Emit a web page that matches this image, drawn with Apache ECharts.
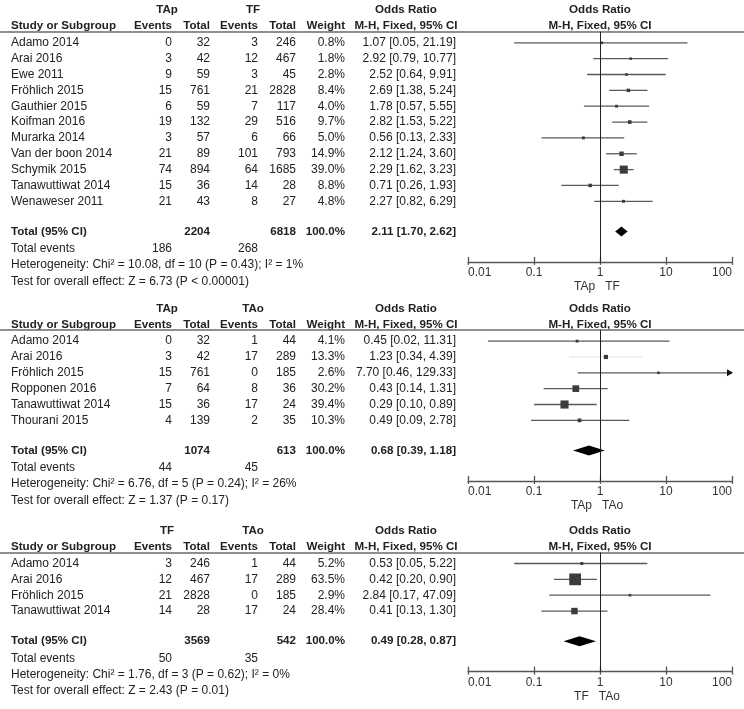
<!DOCTYPE html>
<html><head><meta charset="utf-8">
<script src="https://cdn.jsdelivr.net/npm/echarts@6/dist/echarts.min.js"></script>
<style>html,body{margin:0;padding:0;background:#fff}#c{width:744px;height:709px}</style>
</head><body><div id="c"></div>
<script>
// ---------- DATA ----------
// Panel 1: TAp vs TF
const groups1 = ['TAp', 'TF'];
const studies1 = ['Adamo 2014','Arai 2016','Ewe 2011','Fröhlich 2015','Gauthier 2015','Koifman 2016','Murarka 2014','Van der boon 2014','Schymik 2015','Tanawuttiwat 2014','Wenaweser 2011'];
const evA1 = [0,3,9,15,6,19,3,21,74,15,21];
const totA1 = [32,42,59,761,59,132,57,89,894,36,43];
const evB1 = [3,12,3,21,7,29,6,101,64,14,8];
const totB1 = [246,467,45,2828,117,516,66,793,1685,28,27];
const weight1 = [0.8,1.8,2.8,8.4,4.0,9.7,5.0,14.9,39.0,8.8,4.8];
const or1 = [1.07,2.92,2.52,2.69,1.78,2.82,0.56,2.12,2.29,0.71,2.27];
const lo1 = [0.05,0.79,0.64,1.38,0.57,1.53,0.13,1.24,1.62,0.26,0.82];
const hi1 = [21.19,10.77,9.91,5.24,5.55,5.22,2.33,3.60,3.23,1.93,6.29];
const totals1 = [2204, 6818];
const totalEvents1 = [186, 268];
const pooled1 = [2.11, 1.70, 2.62];
const het1 = 'Heterogeneity: Chi² = 10.08, df = 10 (P = 0.43); I² = 1%';
const test1 = 'Test for overall effect: Z = 6.73 (P < 0.00001)';

// Panel 2: TAp vs TAo
const groups2 = ['TAp', 'TAo'];
const studies2 = ['Adamo 2014','Arai 2016','Fröhlich 2015','Ropponen 2016','Tanawuttiwat 2014','Thourani 2015'];
const evA2 = [0,3,15,7,15,4];
const totA2 = [32,42,761,64,36,139];
const evB2 = [1,17,0,8,17,2];
const totB2 = [44,289,185,36,24,35];
const weight2 = [4.1,13.3,2.6,30.2,39.4,10.3];
const or2 = [0.45,1.23,7.70,0.43,0.29,0.49];
const lo2 = [0.02,0.34,0.46,0.14,0.10,0.09];
const hi2 = [11.31,4.39,129.33,1.31,0.89,2.78];
const totals2 = [1074, 613];
const totalEvents2 = [44, 45];
const pooled2 = [0.68, 0.39, 1.18];
const het2 = 'Heterogeneity: Chi² = 6.76, df = 5 (P = 0.24); I² = 26%';
const test2 = 'Test for overall effect: Z = 1.37 (P = 0.17)';

// Panel 3: TF vs TAo
const groups3 = ['TF', 'TAo'];
const studies3 = ['Adamo 2014','Arai 2016','Fröhlich 2015','Tanawuttiwat 2014'];
const evA3 = [3,12,21,14];
const totA3 = [246,467,2828,28];
const evB3 = [1,17,0,17];
const totB3 = [44,289,185,24];
const weight3 = [5.2,63.5,2.9,28.4];
const or3 = [0.53,0.42,2.84,0.41];
const lo3 = [0.05,0.20,0.17,0.13];
const hi3 = [5.22,0.90,47.09,1.30];
const totals3 = [3569, 542];
const totalEvents3 = [50, 35];
const pooled3 = [0.49, 0.28, 0.87];
const het3 = 'Heterogeneity: Chi² = 1.76, df = 3 (P = 0.62); I² = 0%';
const test3 = 'Test for overall effect: Z = 2.43 (P = 0.01)';

const tickValues = [0.01, 0.1, 1, 10, 100];
const tickLabels = ['0.01', '0.1', '1', '10', '100'];
const orHeader = ['Odds Ratio', 'M-H, Fixed, 95% CI'];

// ---------- LAYOUT ----------
const W = 744;
const rowH = 15.85;
const panelTop = [10, 308.3, 530.7];     // pixel of first header line
const COL = {label: 11, evA: 172, totA: 210, evB: 258, totB: 296, weight: 345, ci: 456,
             grpA: 167, grpB: 253, ciHead: 406, forestHead: 600};
const FOREST_LEFT = 468, FOREST_RIGHT = 12;
const FONT = '"Liberation Sans", Arial, Helvetica, sans-serif';
const TXT = '#222';
const faint = {1: [1]}; // panel index -> rows drawn faint in reference

const panels = [
  {groups: groups1, studies: studies1, evA: evA1, totA: totA1, evB: evB1, totB: totB1, w: weight1, or: or1, lo: lo1, hi: hi1, totals: totals1, tev: totalEvents1, pooled: pooled1, het: het1, test: test1},
  {groups: groups2, studies: studies2, evA: evA2, totA: totA2, evB: evB2, totB: totB2, w: weight2, or: or2, lo: lo2, hi: hi2, totals: totals2, tev: totalEvents2, pooled: pooled2, het: het2, test: test2},
  {groups: groups3, studies: studies3, evA: evA3, totA: totA3, evB: evB3, totB: totB3, w: weight3, or: or3, lo: lo3, hi: hi3, totals: totals3, tev: totalEvents3, pooled: pooled3, het: het3, test: test3}
];

const fmtCI = (o, l, h) => o.toFixed(2) + ' [' + l.toFixed(2) + ', ' + h.toFixed(2) + ']';

const grid = [], xAxis = [], yAxis = [], series = [];
const H1 = -2.07, H2 = -1.05, UL = -0.7;

panels.forEach((p, pi) => {
  const n = p.studies.length;
  const tRow = n + 0.9;
  const evRow = tRow + 1.1, hetRow = tRow + 2.1, testRow = tRow + 3.15, axRow = tRow + 1.92;
  const top = panelTop[pi];
  const pix = r => top + (r - H1) * rowH;

  // cells
  const cells = [];
  const add = (x, r, text, align, bold) => cells.push({x, r, text: String(text), align, bold});
  add(COL.grpA, H1, p.groups[0], 'center', true);
  add(COL.grpB, H1, p.groups[1], 'center', true);
  add(COL.ciHead, H1, orHeader[0], 'center', true);
  add(COL.forestHead, H1, orHeader[0], 'center', true);
  add(COL.label, H2, 'Study or Subgroup', 'left', true);
  add(COL.evA, H2, 'Events', 'right', true);
  add(COL.totA, H2, 'Total', 'right', true);
  add(COL.evB, H2, 'Events', 'right', true);
  add(COL.totB, H2, 'Total', 'right', true);
  add(COL.weight, H2, 'Weight', 'right', true);
  add(COL.ciHead, H2, orHeader[1], 'center', true);
  add(COL.forestHead, H2, orHeader[1], 'center', true);
  p.studies.forEach((s, i) => {
    add(COL.label, i, s, 'left', false);
    add(COL.evA, i, p.evA[i], 'right', false);
    add(COL.totA, i, p.totA[i], 'right', false);
    add(COL.evB, i, p.evB[i], 'right', false);
    add(COL.totB, i, p.totB[i], 'right', false);
    add(COL.weight, i, p.w[i].toFixed(1) + '%', 'right', false);
    add(COL.ci, i, fmtCI(p.or[i], p.lo[i], p.hi[i]), 'right', false);
  });
  add(COL.label, tRow, 'Total (95% CI)', 'left', true);
  add(COL.totA, tRow, p.totals[0], 'right', true);
  add(COL.totB, tRow, p.totals[1], 'right', true);
  add(COL.weight, tRow, '100.0%', 'right', true);
  add(COL.ci, tRow, fmtCI(p.pooled[0], p.pooled[1], p.pooled[2]), 'right', true);
  add(COL.label, evRow, 'Total events', 'left', false);
  add(COL.evA, evRow, p.tev[0], 'right', false);
  add(COL.evB, evRow, p.tev[1], 'right', false);
  add(COL.label, hetRow, p.het, 'left', false);
  add(COL.label, testRow, p.test, 'left', false);

  // table grid
  const yMin = -2.6, yMax = testRow + 0.6;
  const gT = grid.length;
  grid.push({left: 0, width: W, top: pix(yMin), height: (yMax - yMin) * rowH, containLabel: false});
  xAxis.push({type: 'value', gridIndex: gT, min: 0, max: W, show: false});
  yAxis.push({type: 'value', gridIndex: gT, min: yMin, max: yMax, inverse: true, show: false});
  series.push({
    type: 'custom', xAxisIndex: xAxis.length - 1, yAxisIndex: yAxis.length - 1,
    data: cells.map(c => [c.x, c.r]), silent: true, animation: false,
    renderItem: (params, api) => {
      const c = cells[params.dataIndex];
      const pt = api.coord([api.value(0), api.value(1)]);
      return {type: 'text', x: pt[0], y: pt[1], style: {
        text: c.text, align: c.align, verticalAlign: 'middle', fill: TXT,
        font: (c.bold ? 'bold 11.6px ' : '12px ') + FONT}};
    },
    markLine: {silent: true, symbol: 'none', animation: false, label: {show: false},
      lineStyle: {color: '#6a6a6a', width: 1.5, type: 'solid'}, data: [{yAxis: UL}]}
  });

  // forest grid
  const gF = grid.length;
  grid.push({left: FOREST_LEFT, right: FOREST_RIGHT, top: pix(UL), height: (axRow - UL) * rowH, containLabel: false});
  const axBase = {type: 'log', logBase: 10, gridIndex: gF, min: 0.01, max: 100, position: 'bottom', splitLine: {show: false}};
  xAxis.push(Object.assign({}, axBase, {
    axisLine: {show: true, onZero: false, lineStyle: {color: '#555', width: 1.3}},
    axisTick: {show: true, inside: false, length: 3, lineStyle: {color: '#555', width: 1.3}},
    axisLabel: {show: true, margin: 5, color: '#333', fontSize: 12, fontFamily: FONT,
      alignMinLabel: 'left', alignMaxLabel: 'right',
      formatter: v => { const k = tickValues.findIndex(t => Math.abs(Math.log10(t) - Math.log10(v)) < 1e-6); return k >= 0 ? tickLabels[k] : ''; }},
    name: p.groups[0] + '   ' + p.groups[1], nameLocation: 'middle', nameGap: 19,
    nameTextStyle: {color: '#333', fontSize: 12, fontFamily: FONT, padding: [0, 6, 0, 0]}
  }));
  const fxIdx = xAxis.length - 1;
  xAxis.push(Object.assign({}, axBase, {
    axisLine: {show: false, onZero: false}, axisLabel: {show: false},
    axisTick: {show: true, inside: true, length: 5, lineStyle: {color: '#555', width: 1.3}}
  }));
  yAxis.push({type: 'value', gridIndex: gF, min: UL, max: axRow, inverse: true, show: false});
  const fyIdx = yAxis.length - 1;

  const fdata = p.studies.map((s, i) => [p.or[i], i, p.lo[i], p.hi[i], p.w[i]]);
  fdata.push([p.pooled[0], tRow, p.pooled[1], p.pooled[2], -1]);
  const faintRows = faint[pi] || [];
  series.push({
    type: 'custom', xAxisIndex: fxIdx, yAxisIndex: fyIdx, data: fdata, silent: true, animation: false, clip: false,
    renderItem: (params, api) => {
      const est = api.value(0), r = api.value(1), lo = api.value(2), hi = api.value(3), w = api.value(4);
      const y = api.coord([1, r])[1];
      const xe = api.coord([est, r])[0];
      const xl = api.coord([Math.max(lo, 0.01), r])[0];
      const xh = api.coord([Math.min(hi, 100), r])[0];
      if (w < 0) {
        return {type: 'polygon', shape: {points: [[xl, y], [xe, y - 5], [xh, y], [xe, y + 5]]}, style: {fill: '#000'}};
      }
      const lineColor = faintRows.indexOf(params.dataIndex) >= 0 ? '#e6e6e6' : '#5a5a5a';
      const children = [{type: 'line', shape: {x1: xl, y1: y, x2: xh, y2: y}, style: {stroke: lineColor, lineWidth: 1.3}}];
      if (hi > 100) {
        children.push({type: 'polygon', shape: {points: [[xh + 1, y], [xh - 5, y - 3.5], [xh - 5, y + 3.5]]}, style: {fill: '#111'}});
      }
      const side = Math.max(2.5, 2.2 + 0.15 * w);
      children.push({type: 'rect', shape: {x: xe - side / 2, y: y - side / 2, width: side, height: side}, style: {fill: '#3c3c3c'}});
      return {type: 'group', children};
    },
    markLine: {silent: true, symbol: 'none', animation: false, label: {show: false},
      lineStyle: {color: '#222', width: 1, type: 'solid'}, data: [{xAxis: 1}]}
  });
});

const chart = echarts.init(document.getElementById('c'), null, {renderer: 'canvas'});
chart.setOption({backgroundColor: '#fff', animation: false, grid, xAxis, yAxis, series});
</script>
</body></html>
